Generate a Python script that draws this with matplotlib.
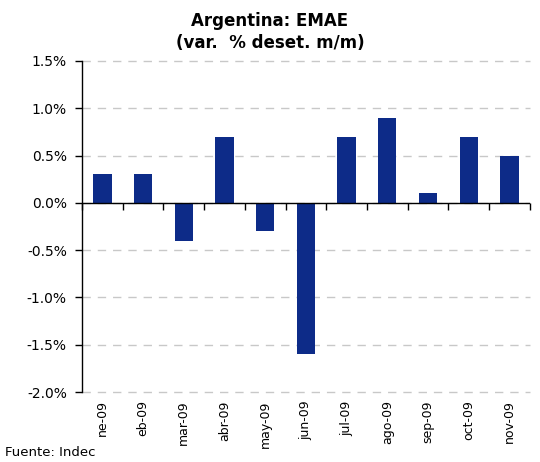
import matplotlib
matplotlib.use("Agg")
import matplotlib.pyplot as plt
import numpy as np
from matplotlib.ticker import FuncFormatter

meses = ["ne-09", "eb-09", "mar-09", "abr-09", "may-09", "jun-09",
         "jul-09", "ago-09", "sep-09", "oct-09", "nov-09"]
var_mm = [0.3, 0.3, -0.4, 0.7, -0.3, -1.6, 0.7, 0.9, 0.1, 0.7, 0.5]
yticks = [1.5, 1.0, 0.5, 0.0, -0.5, -1.0, -1.5, -2.0]

fig = plt.figure(figsize=(5.4, 4.62), dpi=100)
ax = fig.add_axes([0.152, 0.1515, 0.829, 0.7165])

x = np.arange(len(meses))
ax.bar(x, var_mm, width=0.45, color="#0D2B88", zorder=3)

ax.set_xlim(-0.5, len(meses) - 0.5)
ax.set_ylim(-2.0, 1.5)
ax.set_yticks(yticks)
ax.yaxis.set_major_formatter(FuncFormatter(lambda v, p: "%.1f%%" % v))
ax.tick_params(axis="y", direction="out", length=5, width=1, labelsize=10, pad=6)
ax.grid(axis="y", color="#c8c8c8", linestyle=(0, (6, 5)), linewidth=1, zorder=0)
for gl in ax.get_ygridlines():
    gl.set_clip_on(False)

# etiquetas de meses abajo
ax.set_xticks(x)
ax.set_xticklabels(meses, rotation=90, fontsize=9)
ax.tick_params(axis="x", length=0, pad=6)

for s in ["top", "right", "bottom"]:
    ax.spines[s].set_visible(False)
ax.spines["left"].set_linewidth(1)

# linea del cero con marcas entre categorias
limites = np.arange(len(meses) + 1) - 0.5
ax.axhline(0, color="black", linewidth=1, zorder=4)
ax.plot(limites, np.zeros(len(limites)), linestyle="none", marker=3,
        markersize=5, markeredgewidth=1, color="black", zorder=4, clip_on=False)

fig.text(0.5, 0.955, "Argentina: EMAE", ha="center", va="center",
         fontsize=12, fontweight="bold")
fig.text(0.5, 0.908, "(var.  % deset. m/m)", ha="center", va="center",
         fontsize=12, fontweight="bold")
fig.text(0.01, 0.02, "Fuente: Indec", ha="left", va="center", fontsize=9.5)

fig.savefig("out.png", dpi=100)
